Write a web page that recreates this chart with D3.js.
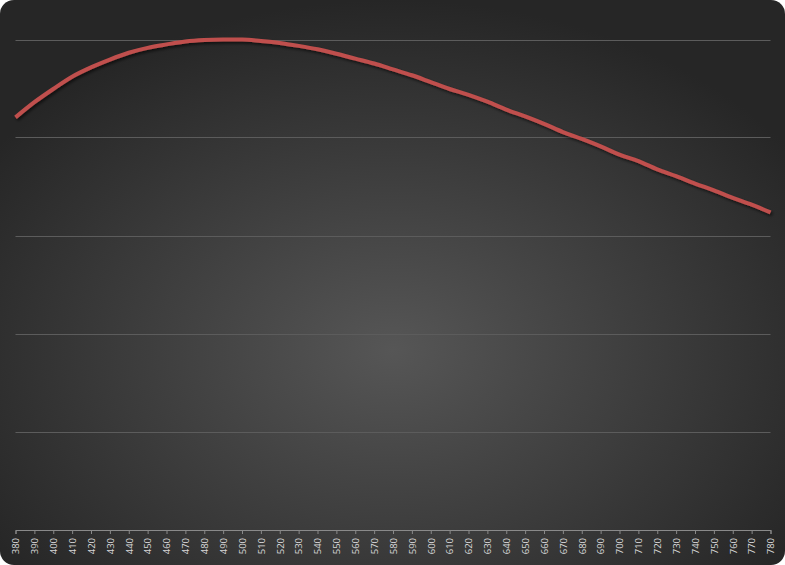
<!DOCTYPE html>
<html>
<head>
<meta charset="utf-8">
<script src="https://cdn.jsdelivr.net/npm/d3@7"></script>
<style>
html,body{margin:0;padding:0;background:#fff;}
svg{display:block;}
</style>
</head>
<body>
<svg id="chart" width="785" height="565"></svg>
<script>
const wavelengths = [380,390,400,410,420,430,440,450,460,470,480,490,500,510,520,530,540,550,560,570,580,590,600,610,620,630,640,650,660,670,680,690,700,710,720,730,740,750,760,770,780];
const intensity = [84.1,87.2,89.9,92.4,94.3,95.9,97.3,98.3,99.0,99.6,99.9,100,100,99.7,99.3,98.7,98.0,97.1,96.1,95.1,93.9,92.7,91.3,89.9,88.7,87.3,85.7,84.3,82.8,81.1,79.7,78.2,76.5,75.2,73.5,72.1,70.6,69.2,67.7,66.3,64.7];
const yTicks = [0,20,40,60,80,100];

const W = 785, H = 565;
const svg = d3.select("#chart");
const defs = svg.append("defs");
const rg = defs.append("radialGradient").attr("id","bg")
  .attr("cx","50%").attr("cy","62%").attr("r","62%");
rg.append("stop").attr("offset","0%").attr("stop-color","#565656");
rg.append("stop").attr("offset","100%").attr("stop-color","#262626");
const f = defs.append("filter").attr("id","shadow").attr("x","-5%").attr("y","-20%").attr("width","110%").attr("height","140%");
f.append("feDropShadow").attr("dx",1.5).attr("dy",2).attr("stdDeviation",1.5).attr("flood-color","#000").attr("flood-opacity",0.6);

svg.append("rect").attr("x",0).attr("y",0).attr("width",W).attr("height",H)
  .attr("rx",14).attr("ry",14).attr("fill","url(#bg)");

const x = d3.scaleLinear().domain([380,780]).range([15.5,770.5]);
const y = d3.scaleLinear().domain([0,100]).range([529.5,39.5]);

// gridlines
svg.append("g").selectAll("line").data(yTicks.filter(d=>d>0)).join("line")
  .attr("x1",15.5).attr("x2",770.5)
  .attr("y1",d=>Math.round(y(d))+0.5).attr("y2",d=>Math.round(y(d))+0.5)
  .attr("stroke","#5c5c5c").attr("stroke-width",1);

// x axis
const xAxis = d3.axisBottom(x).tickValues(wavelengths).tickSize(4).tickFormat(d3.format("d"));
const gx = svg.append("g").attr("transform",`translate(0,${Math.round(y(0))})`).call(xAxis);
gx.select(".domain").attr("stroke","#8a8a8a");
gx.selectAll(".tick line").attr("stroke","#8a8a8a");
gx.selectAll(".tick text")
  .attr("fill","#d8d8d8")
  .attr("font-family","'Open Sans', 'DejaVu Sans', sans-serif")
  .attr("font-size","9.5px")
  .attr("transform","rotate(-90)")
  .attr("text-anchor","end")
  .attr("x",-8).attr("y",0).attr("dy","0.35em");

// line
const line = d3.line().x((d,i)=>x(wavelengths[i])).y(d=>y(d)).curve(d3.curveMonotoneX);
svg.append("path").datum(intensity)
  .attr("d",line).attr("fill","none")
  .attr("stroke","#c0504d").attr("stroke-width",4)
  .attr("stroke-linejoin","round")
  .attr("filter","url(#shadow)");
</script>
</body>
</html>
